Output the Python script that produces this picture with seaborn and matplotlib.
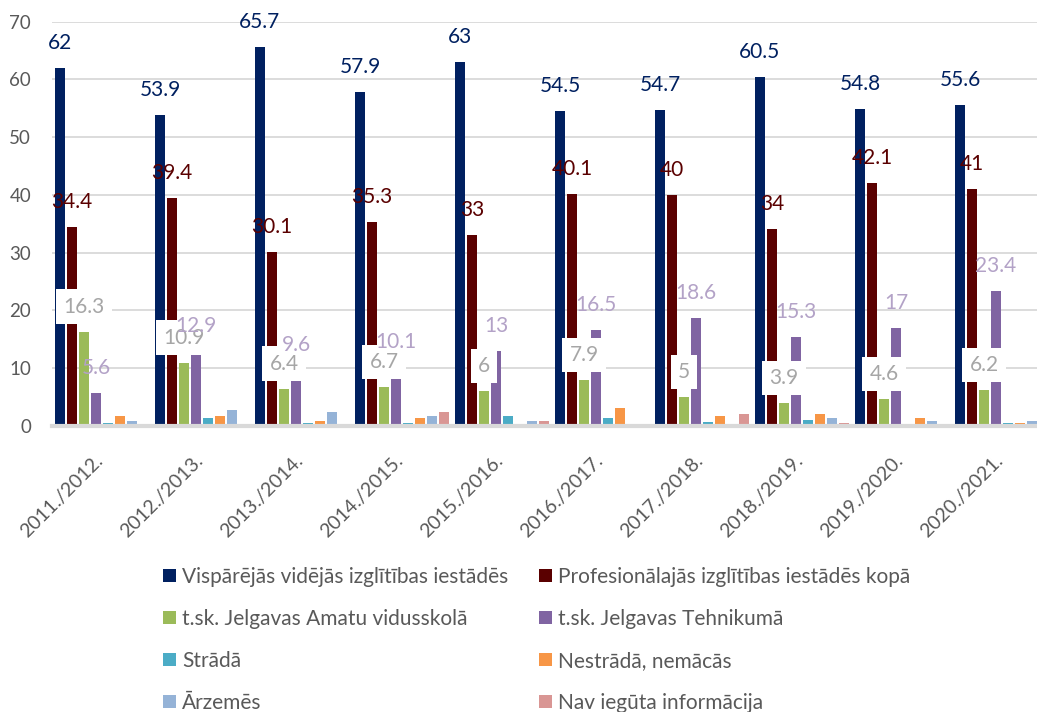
import numpy as np
import pandas as pd
import matplotlib
matplotlib.use("Agg")
import matplotlib.pyplot as plt
import matplotlib.transforms as mtransforms
from matplotlib import font_manager
import seaborn as sns

# data
years = ["2011./2012.", "2012./2013.", "2013./2014.", "2014./2015.", "2015./2016.",
         "2016./2017.", "2017./2018.", "2018./2019.", "2019./2020.", "2020./2021."]
vispareja = [62, 53.9, 65.7, 57.9, 63, 54.5, 54.7, 60.5, 54.8, 55.6]
profesionala = [34.4, 39.4, 30.1, 35.3, 33, 40.1, 40, 34, 42.1, 41]
amatu = [16.3, 10.9, 6.4, 6.7, 6, 7.9, 5, 3.9, 4.6, 6.2]
tehnikums = [5.6, 12.9, 9.6, 10.1, 13, 16.5, 18.6, 15.3, 17, 23.4]
strada = [0.4, 1.4, 0.4, 0.4, 1.7, 1.4, 0.7, 1.0, 0.0, 0.5]
nestrada = [1.7, 1.7, 0.8, 1.4, 0.0, 3.1, 1.7, 2.1, 1.4, 0.5]
arzemes = [0.8, 2.8, 2.4, 1.7, 0.8, 0.3, 0.3, 1.3, 0.8, 0.8]
nav_info = [0.0, 0.0, 0.0, 2.4, 0.8, 0.0, 2.0, 0.4, 0.0, 0.8]

series_names = ["Vispārējās vidējās izglītības iestādēs",
                "Profesionālajās izglītības iestādēs kopā",
                "t.sk. Jelgavas Amatu vidusskolā",
                "t.sk. Jelgavas Tehnikumā",
                "Strādā",
                "Nestrādā, nemācās",
                "Ārzemēs",
                "Nav iegūta informācija"]
series_values = [vispareja, profesionala, amatu, tehnikums,
                 strada, nestrada, arzemes, nav_info]
colors = ["#002060", "#5a0000", "#9bbb59", "#8064a2",
          "#4bacc6", "#f79646", "#95b3d7", "#d99694"]
label_colors = ["#002060", "#5a0000", "#a6a6a6", "#b3a2c7"]


def has_font(name):
    try:
        font_manager.findfont(font_manager.FontProperties(family=name),
                              fallback_to_default=False)
        return True
    except ValueError:
        return False


sns.set_style("white")
main_font = "Lato" if has_font("Lato") else "DejaVu Sans"
plt.rcParams["font.family"] = [main_font, "DejaVu Sans"]
legend_size = 15

rows = []
for name, vals in zip(series_names, series_values):
    for y, v in zip(years, vals):
        rows.append({"year": y, "series": name, "value": v})
df = pd.DataFrame(rows)

fig = plt.figure(figsize=(10.37, 7.12), dpi=100)
ax = fig.add_axes([52 / 1037, (712 - 425.7) / 712, 1000 / 1037, 404 / 712])

sns.barplot(data=df, x="year", y="value", hue="series", hue_order=series_names,
            order=years, palette=colors, saturation=1, width=0.96, gap=0.22,
            linewidth=0, legend=False, ax=ax)

ax.set_xlim(-0.5, 9.5)
ax.set_ylim(0, 70)
ax.set_yticks(range(0, 71, 10))
ax.set_xlabel("")
ax.set_ylabel("")
ax.set_axisbelow(True)
ax.yaxis.grid(True, color="#d9d9d9", lw=1.3)
ax.xaxis.grid(False)
for side in ["top", "right", "left"]:
    ax.spines[side].set_visible(False)
ax.spines["bottom"].set_color("#d9d9d9")
ax.spines["bottom"].set_linewidth(3)

ax.tick_params(axis="y", length=0, pad=15, labelsize=13.5, labelcolor="#595959")
ax.tick_params(axis="x", length=0, pad=0, labelsize=14, labelcolor="#595959")

# data labels for the first four series
for i in range(4):
    cont = ax.containers[i]
    for bar, v in zip(cont.patches, series_values[i]):
        x = bar.get_x() + bar.get_width() / 2
        kw = {}
        z = 5
        if i == 2:
            kw["bbox"] = dict(boxstyle="square,pad=0.35", fc="white", ec="none")
            z = 4
        ax.annotate(f"{v:g}", (x, bar.get_height()), xytext=(0, 18),
                    textcoords="offset points", ha="center", va="center",
                    fontsize=15, color=label_colors[i], zorder=z, **kw)

# rotated category labels, right end sits under the group centre
offset = mtransforms.ScaledTranslation(-0.02, -0.32, fig.dpi_scale_trans)
for lab in ax.get_xticklabels():
    lab.set_rotation(45)
    lab.set_ha("right")
    lab.set_va("center")
    lab.set_rotation_mode("anchor")
    lab.set_transform(lab.get_transform() + offset)

# legend fills column by column, so reorder to read row by row
order = [0, 2, 4, 6, 1, 3, 5, 7]
handles = [ax.containers[i] for i in order]
labels = [series_names[i] for i in order]
fs_px = legend_size * 100 / 72
fig.legend(handles, labels, ncol=2, loc="upper left",
           bbox_to_anchor=(163 / 1037, 1 - 567 / 712), frameon=False,
           borderpad=0, borderaxespad=0, handlelength=13 / fs_px,
           handleheight=12 / fs_px, handletextpad=6 / fs_px,
           columnspacing=31 / fs_px, labelspacing=1.05,
           prop={"size": legend_size},
           labelcolor="#595959")

fig.savefig("out.png", dpi=100)
